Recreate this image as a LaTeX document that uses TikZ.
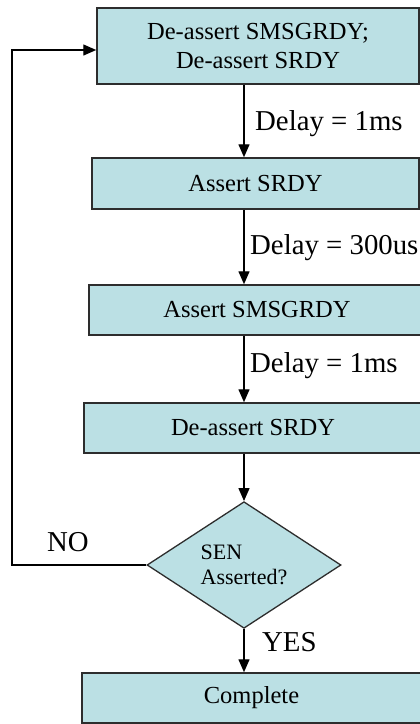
\documentclass[tikz,border=0pt]{standalone}
\usepackage{fontspec}
\setmainfont{Liberation Serif}
\usetikzlibrary{shapes.geometric,arrows.meta}
\definecolor{boxfill}{RGB}{187,224,228}
\definecolor{edge}{RGB}{45,45,45}
\begin{document}
\begin{tikzpicture}[x=1pt,y=-1pt,
  box/.style={draw=edge, line width=1.5pt, fill=boxfill, inner sep=0pt, align=center,
    font=\fontsize{24.5}{29.5}\selectfont},
  decision/.style={diamond, draw=edge, line width=1.3pt, fill=boxfill, inner sep=0pt, align=left,
    font=\fontsize{22}{25}\selectfont},
  lbl/.style={inner sep=0pt, anchor=base west, font=\fontsize{28.8}{34}\selectfont},
  arr/.style={line width=1.4pt, -{Triangle[width=11pt,length=13pt]}}]
\useasboundingbox (0,0) rectangle (420,724);
\clip (0,0) rectangle (420,724);
\fill[white] (0,0) rectangle (420,724);

\node[box, minimum width=322pt, minimum height=76pt] (b1) at (258,46) {De-assert SMSGRDY;\\De-assert SRDY};
\node[box, minimum width=327pt, minimum height=51pt] (b2) at (255.5,183.5) {Assert SRDY};
\node[box, minimum width=336pt, minimum height=50pt] (b3) at (257,310) {Assert SMSGRDY};
\node[box, minimum width=338pt, minimum height=50pt] (b4) at (253,428) {De-assert SRDY};
\node[decision, minimum width=194pt, minimum height=110pt] (d) at (244,565) {SEN\\Asserted?};
\node[box, minimum width=339pt, minimum height=50pt] (b5) at (251.5,698) {Complete};

\draw[arr] (b1.south -| d.north) -- (b2.north -| d.north);
\draw[arr] (b2.south -| d.north) -- (b3.north -| d.north);
\draw[arr] (b3.south -| d.north) -- (b4.north -| d.north);
\draw[arr] (b4.south -| d.north) -- (d.north);
\draw[arr] (d.south) -- (b5.north -| d.south);
\coordinate (lp) at (12,50);
\draw[arr] (d.west) -| (lp) -- (b1.west |- lp);

\node[lbl] (l1) at (255,130) {Delay = 1ms};
\node[lbl] (l2) at (250,254) {Delay = 300us};
\node[lbl] (l3) at (250,372) {Delay = 1ms};
\node[lbl] (lno) at (47,551) {NO};
\node[lbl] (lyes) at (262,651) {YES};
\end{tikzpicture}
\end{document}
